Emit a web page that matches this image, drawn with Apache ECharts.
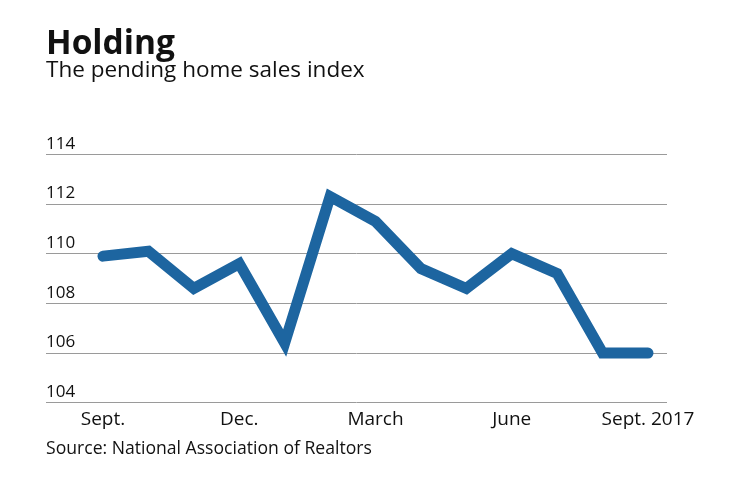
<!DOCTYPE html>
<html>
<head>
<meta charset="utf-8">
<script src="https://cdn.jsdelivr.net/npm/echarts@6/dist/echarts.min.js"></script>
<style>
html,body{margin:0;padding:0;background:#fff;}
#c{width:740px;height:482px;}
</style>
</head>
<body>
<div id="c"></div>
<script>
var categories = ["Sept.","Oct.","Nov.","Dec.","Jan.","Feb.","March","April","May","June","July","Aug.","Sept. 2017"];
var values = [109.9, 110.1, 108.6, 109.6, 106.4, 112.3, 111.3, 109.4, 108.6, 110.0, 109.2, 106.0, 106.0];
var yTicks = [104, 106, 108, 110, 112, 114];

var FONT = 'Open Sans';
var chart = echarts.init(document.getElementById('c'));
chart.setOption({
  backgroundColor: '#fff',
  animation: false,
  textStyle: { fontFamily: FONT },
  title: [
    { text: 'Holding', left: 46, top: 27, padding: 0, textStyle: { fontFamily: FONT, fontSize: 33.5, fontWeight: 'bold', color: '#111' } },
    { text: 'The pending home sales index', left: 46, top: 59, padding: 0, textStyle: { fontFamily: FONT, fontSize: 22.5, fontWeight: 'normal', color: '#111' } },
    { text: 'Source: National Association of Realtors', left: 46, top: 440, padding: 0, textStyle: { fontFamily: FONT, fontSize: 17.6, fontWeight: 'normal', color: '#111' } }
  ],
  grid: [
    { left: 46, right: 73, top: 154.3, bottom: 79.3 },
    { left: 103, right: 92, top: 154.3, bottom: 79.3 }
  ],
  xAxis: [
    { type: 'value', gridIndex: 0, show: false, min: 0, max: 1 },
    { type: 'category', gridIndex: 1, data: categories, boundaryGap: false,
      axisLine: { show: false }, axisTick: { show: false },
      axisLabel: { interval: 2, margin: 7, fontFamily: FONT, fontSize: 19, color: '#111' } }
  ],
  yAxis: [
    { type: 'value', gridIndex: 0, min: yTicks[0], max: yTicks[yTicks.length - 1], interval: 2,
      axisLine: { show: false }, axisTick: { show: false },
      splitLine: { show: true, lineStyle: { color: '#9a9a9a', width: 1 } },
      axisLabel: { inside: true, margin: 0, align: 'left', verticalAlign: 'bottom', padding: [0, 0, 2, 0],
        fontFamily: FONT, fontSize: 17, color: '#111' } },
    { type: 'value', gridIndex: 1, min: yTicks[0], max: yTicks[yTicks.length - 1], interval: 2, show: false }
  ],
  series: [
    { type: 'line', xAxisIndex: 1, yAxisIndex: 1, data: values, symbol: 'none', silent: true,
      lineStyle: { color: '#1d65a0', width: 11, cap: 'round', join: 'miter' } }
  ]
});
</script>
</body>
</html>
